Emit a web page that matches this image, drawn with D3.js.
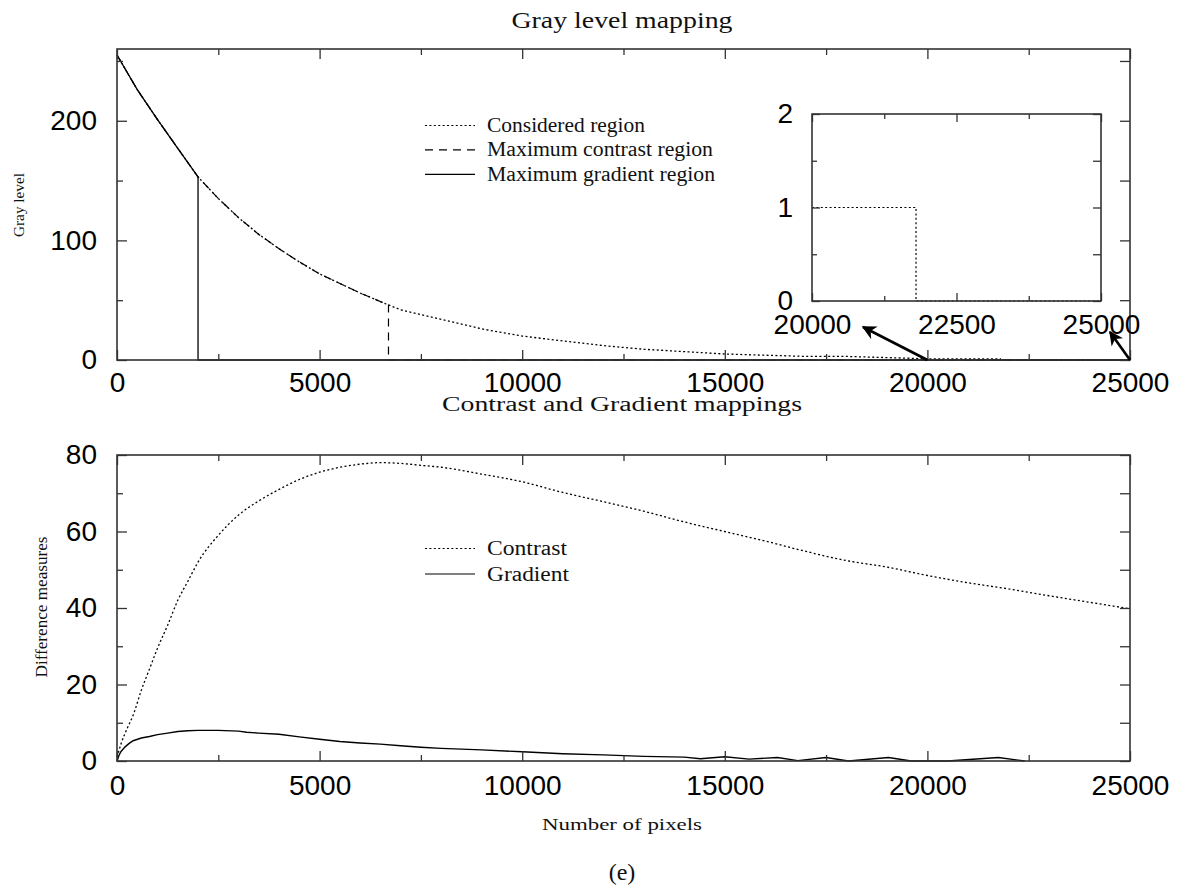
<!DOCTYPE html>
<html>
<head>
<meta charset="utf-8">
<script src="https://cdn.jsdelivr.net/npm/d3@7"></script>
<style>
  body { margin: 0; background: #fff; }
  svg { display: block; }
  .tick line { stroke: #333; stroke-width: 1.3; }
  .tick text { font-family: "Liberation Sans", Arial, sans-serif; fill: #000; }
  .serif { font-family: "Liberation Serif", "Times New Roman", serif; fill: #111; }
</style>
</head>
<body>
<div id="chart"></div>
<script>
// ---- data ----
const grayX = [0, 500, 1000, 1500, 2000, 2500, 3000, 3500, 4000, 4500, 5000, 5500, 6000, 6700,
  7000, 7500, 8000, 8500, 9000, 9500, 10000, 11000, 12000, 13000, 14000, 15000, 16000, 17000,
  18000, 19000, 20000, 21800, 21800, 25000];
const grayY = [255, 226, 201, 177, 153, 135, 119, 105, 93, 82, 72, 64, 56, 46,
  42, 38, 34, 30, 26, 23, 20, 16, 12, 9, 7, 5, 4, 3,
  3, 2, 1, 1, 0, 0];
const contrastCut = 6700;   // end of maximum contrast region
const gradientCut = 2000;   // end of maximum gradient region

const insetX = [20000, 21800, 25000];
const insetY = [1, 0, 0];

const contrastX = [0, 100, 250, 400, 600, 800, 1000, 1250, 1500, 1750, 2000, 2500, 3000, 3500,
  4000, 4500, 5000, 5500, 6000, 6500, 7000, 7500, 8000, 9000, 10000, 11000, 12000, 13000,
  14000, 15000, 16000, 17000, 18000, 19000, 20000, 21000, 22000, 23000, 24000, 25000];
const contrastY = [1, 4.5, 8.5, 12, 18.5, 24, 29.5, 35.5, 42, 47, 52, 59, 64.3, 68,
  71, 73.6, 75.5, 76.8, 77.6, 78, 77.8, 77.3, 76.8, 75, 73, 70.2, 67.8, 65.3,
  62.5, 60, 57.5, 54.8, 52.4, 50.7, 48.5, 46.6, 45, 43.2, 41.5, 39.8];

const gradientX = [0, 50, 100, 200, 300, 400, 600, 800, 1000, 1250, 1500, 1750, 2000, 2500,
  3000, 3200, 3500, 4000, 4500, 5000, 5500, 6000, 6500, 7000, 7500, 8000, 9000, 10000,
  11000, 12000, 13000, 14000, 14400, 15000, 15600, 16300, 16800, 17500, 18050, 19040, 19600,
  20500, 21750, 22400];
const gradientY = [0, 1.5, 2.5, 3.7, 4.6, 5.3, 6.0, 6.4, 6.9, 7.3, 7.7, 7.9, 8.0, 8.0,
  7.8, 7.5, 7.3, 7.0, 6.3, 5.7, 5.1, 4.7, 4.4, 4.0, 3.6, 3.3, 2.9, 2.4,
  1.9, 1.6, 1.2, 1.0, 0.6, 1.1, 0.5, 0.9, 0.1, 0.9, 0, 0.9, 0,
  0, 0.9, 0];

const xTicks = [0, 5000, 10000, 15000, 20000, 25000];
const xMinor = [2500, 7500, 12500, 17500, 22500];
const grayTicks = [0, 100, 200];
const grayMinor = [50, 150, 250];
const diffTicks = [0, 20, 40, 60, 80];
const diffMinor = [10, 30, 50, 70];
const insetXTicks = [20000, 22500, 25000];
const insetXMinor = [21250, 23750];
const insetYTicks = [0, 1, 2];
const insetYMinor = [0.5, 1.5];

const topLegend = ["Considered region", "Maximum contrast region", "Maximum gradient region"];
const bottomLegend = ["Contrast", "Gradient"];

// ---- layout ----
const W = 1186, H = 892;
const svg = d3.select("#chart").append("svg").attr("width", W).attr("height", H);

const DOT = "2,2.4", DASH = "8,6";
const tickFont = 28;

const x1 = d3.scaleLinear().domain([0, 25000]).range([117, 1130]);
const y1 = d3.scaleLinear().domain([0, 260]).range([360, 49]);
const x2 = d3.scaleLinear().domain([0, 25000]).range([117, 1130]);
const y2 = d3.scaleLinear().domain([0, 80]).range([761, 455]);
const xi = d3.scaleLinear().domain([20000, 25000]).range([812, 1101]);
const yi = d3.scaleLinear().domain([0, 2]).range([301, 114]);

function frame(g, xs, ys, opts) {
  const [xa, xb] = xs.range(), [ya, yb] = ys.range();
  const fmt = d3.format("d");
  // bottom labelled + ticks
  g.append("g").attr("transform", `translate(0,${ya})`)
    .call(d3.axisBottom(xs).tickValues(opts.xt).tickSize(-opts.maj).tickSizeOuter(0)
      .tickPadding(opts.xpad).tickFormat(fmt))
    .call(a => a.select(".domain").remove())
    .call(a => a.selectAll("text").attr("font-size", tickFont));
  g.append("g").attr("transform", `translate(0,${ya})`)
    .call(d3.axisBottom(xs).tickValues(opts.xm).tickSize(-opts.min).tickFormat(""))
    .call(a => a.select(".domain").remove());
  // top mirror
  g.append("g").attr("transform", `translate(0,${yb})`)
    .call(d3.axisTop(xs).tickValues(opts.xt).tickSize(-opts.maj).tickFormat(""))
    .call(a => a.select(".domain").remove());
  g.append("g").attr("transform", `translate(0,${yb})`)
    .call(d3.axisTop(xs).tickValues(opts.xm).tickSize(-opts.min).tickFormat(""))
    .call(a => a.select(".domain").remove());
  // left labelled
  g.append("g").attr("transform", `translate(${xa},0)`)
    .call(d3.axisLeft(ys).tickValues(opts.yt).tickSize(-opts.maj).tickSizeOuter(0)
      .tickPadding(opts.ypad).tickFormat(fmt))
    .call(a => a.select(".domain").remove())
    .call(a => a.selectAll("text").attr("font-size", tickFont));
  g.append("g").attr("transform", `translate(${xa},0)`)
    .call(d3.axisLeft(ys).tickValues(opts.ym).tickSize(-opts.min).tickFormat(""))
    .call(a => a.select(".domain").remove());
  // right mirror
  g.append("g").attr("transform", `translate(${xb},0)`)
    .call(d3.axisRight(ys).tickValues(opts.yt.concat(opts.ym)).tickSize(-opts.maj).tickFormat(""))
    .call(a => a.select(".domain").remove());
  g.append("rect")
    .attr("x", xa).attr("y", yb).attr("width", xb - xa).attr("height", ya - yb)
    .attr("fill", "none").attr("stroke", "#333").attr("stroke-width", 1.6);
}

function legendRows(g, labels, styles, x0, y0, dy, widths) {
  labels.forEach((lab, i) => {
    const y = y0 + i * dy;
    g.append("line").attr("x1", x0).attr("x2", x0 + 50)
      .attr("y1", y - 6.5).attr("y2", y - 6.5)
      .attr("stroke", "#000").attr("stroke-width", 1.2)
      .attr("stroke-dasharray", styles[i]);
    g.append("text").attr("class", "serif")
      .attr("x", x0 + 62).attr("y", y).attr("font-size", 20)
      .attr("textLength", widths[i]).attr("lengthAdjust", "spacingAndGlyphs")
      .text(lab);
  });
}

// ---------- top panel ----------
const topPanel = svg.append("g");
topPanel.append("text").attr("class", "serif")
  .attr("x", 622).attr("y", 28).attr("text-anchor", "middle").attr("font-size", 23)
  .attr("textLength", 221).attr("lengthAdjust", "spacingAndGlyphs")
  .text("Gray level mapping");

const grayPts = grayX.map((x, i) => [x, grayY[i]]);
const regionPts = cut => grayPts.filter(p => p[0] <= cut).concat([[cut, 0], [25000, 0]]);

const line1 = d3.line().x(d => x1(d[0])).y(d => y1(d[1]));
topPanel.append("path").datum(grayPts).attr("d", line1)
  .attr("fill", "none").attr("stroke", "#000").attr("stroke-width", 1.3)
  .attr("stroke-dasharray", DOT);
topPanel.append("path").datum(regionPts(contrastCut)).attr("d", line1)
  .attr("fill", "none").attr("stroke", "#000").attr("stroke-width", 1.2)
  .attr("stroke-dasharray", DASH);
topPanel.append("path").datum(regionPts(gradientCut)).attr("d", line1)
  .attr("fill", "none").attr("stroke", "#000").attr("stroke-width", 1.3);

frame(topPanel, x1, y1, { xt: xTicks, xm: xMinor, yt: grayTicks, ym: grayMinor,
  maj: 10, min: 6, xpad: 12, ypad: 20 });

topPanel.append("text").attr("class", "serif")
  .attr("transform", "translate(24,205) rotate(-90)")
  .attr("text-anchor", "middle").attr("font-size", 15)
  .attr("textLength", 64).attr("lengthAdjust", "spacingAndGlyphs")
  .text("Gray level");

legendRows(topPanel, topLegend, [DOT, DASH, null], 425, 132, 24.4, [158, 226, 228]);

// inset
const inset = svg.append("g");
inset.append("path").datum(insetX.map((x, i) => [x, insetY[i]]))
  .attr("d", d3.line().x(d => xi(d[0])).y(d => yi(d[1])).curve(d3.curveStepAfter))
  .attr("fill", "none").attr("stroke", "#000").attr("stroke-width", 1.2)
  .attr("stroke-dasharray", DOT);
frame(inset, xi, yi, { xt: insetXTicks, xm: insetXMinor, yt: insetYTicks, ym: insetYMinor,
  maj: 8, min: 5, xpad: 13, ypad: 19 });

// arrows from the main axis to the inset labels
svg.append("defs").append("marker")
  .attr("id", "head").attr("viewBox", "0 0 10 10").attr("refX", 9).attr("refY", 5)
  .attr("markerWidth", 5.5).attr("markerHeight", 5.5).attr("orient", "auto")
  .append("path").attr("d", "M0,0 L10,5 L0,10 L3,5 Z").attr("fill", "#000");
[[20000, xi(20000) + 51], [25000, xi(25000) + 9]].forEach(([v, tx], i) => {
  svg.append("line")
    .attr("x1", x1(v)).attr("y1", y1(0))
    .attr("x2", tx).attr("y2", yi(0) + (i === 0 ? 26 : 31))
    .attr("stroke", "#000").attr("stroke-width", 2.6)
    .attr("marker-end", "url(#head)");
});

// ---------- bottom panel ----------
const bot = svg.append("g");
bot.append("text").attr("class", "serif")
  .attr("x", 622).attr("y", 411).attr("text-anchor", "middle").attr("font-size", 20)
  .attr("textLength", 360).attr("lengthAdjust", "spacingAndGlyphs")
  .text("Contrast and Gradient mappings");

const line2 = d3.line().x(d => x2(d[0])).y(d => y2(d[1]));
bot.append("path").datum(contrastX.map((x, i) => [x, contrastY[i]]))
  .attr("d", line2.curve(d3.curveMonotoneX))
  .attr("fill", "none").attr("stroke", "#000").attr("stroke-width", 1.3)
  .attr("stroke-dasharray", DOT);
bot.append("path").datum(gradientX.map((x, i) => [x, gradientY[i]]))
  .attr("d", d3.line().x(d => x2(d[0])).y(d => y2(d[1])))
  .attr("fill", "none").attr("stroke", "#000").attr("stroke-width", 1.4);

frame(bot, x2, y2, { xt: xTicks, xm: xMinor, yt: diffTicks, ym: diffMinor,
  maj: 10, min: 6, xpad: 14, ypad: 20 });

bot.append("text").attr("class", "serif")
  .attr("transform", "translate(47,607) rotate(-90)")
  .attr("text-anchor", "middle").attr("font-size", 17)
  .attr("textLength", 141).attr("lengthAdjust", "spacingAndGlyphs")
  .text("Difference measures");

legendRows(bot, bottomLegend, [DOT, null], 425, 555, 25.5, [80, 82]);

svg.append("text").attr("class", "serif")
  .attr("x", 622).attr("y", 830).attr("text-anchor", "middle").attr("font-size", 17)
  .attr("textLength", 160).attr("lengthAdjust", "spacingAndGlyphs")
  .text("Number of pixels");

svg.append("text").attr("class", "serif")
  .attr("x", 622).attr("y", 880).attr("text-anchor", "middle").attr("font-size", 24)
  .text("(e)");
</script>
</body>
</html>
